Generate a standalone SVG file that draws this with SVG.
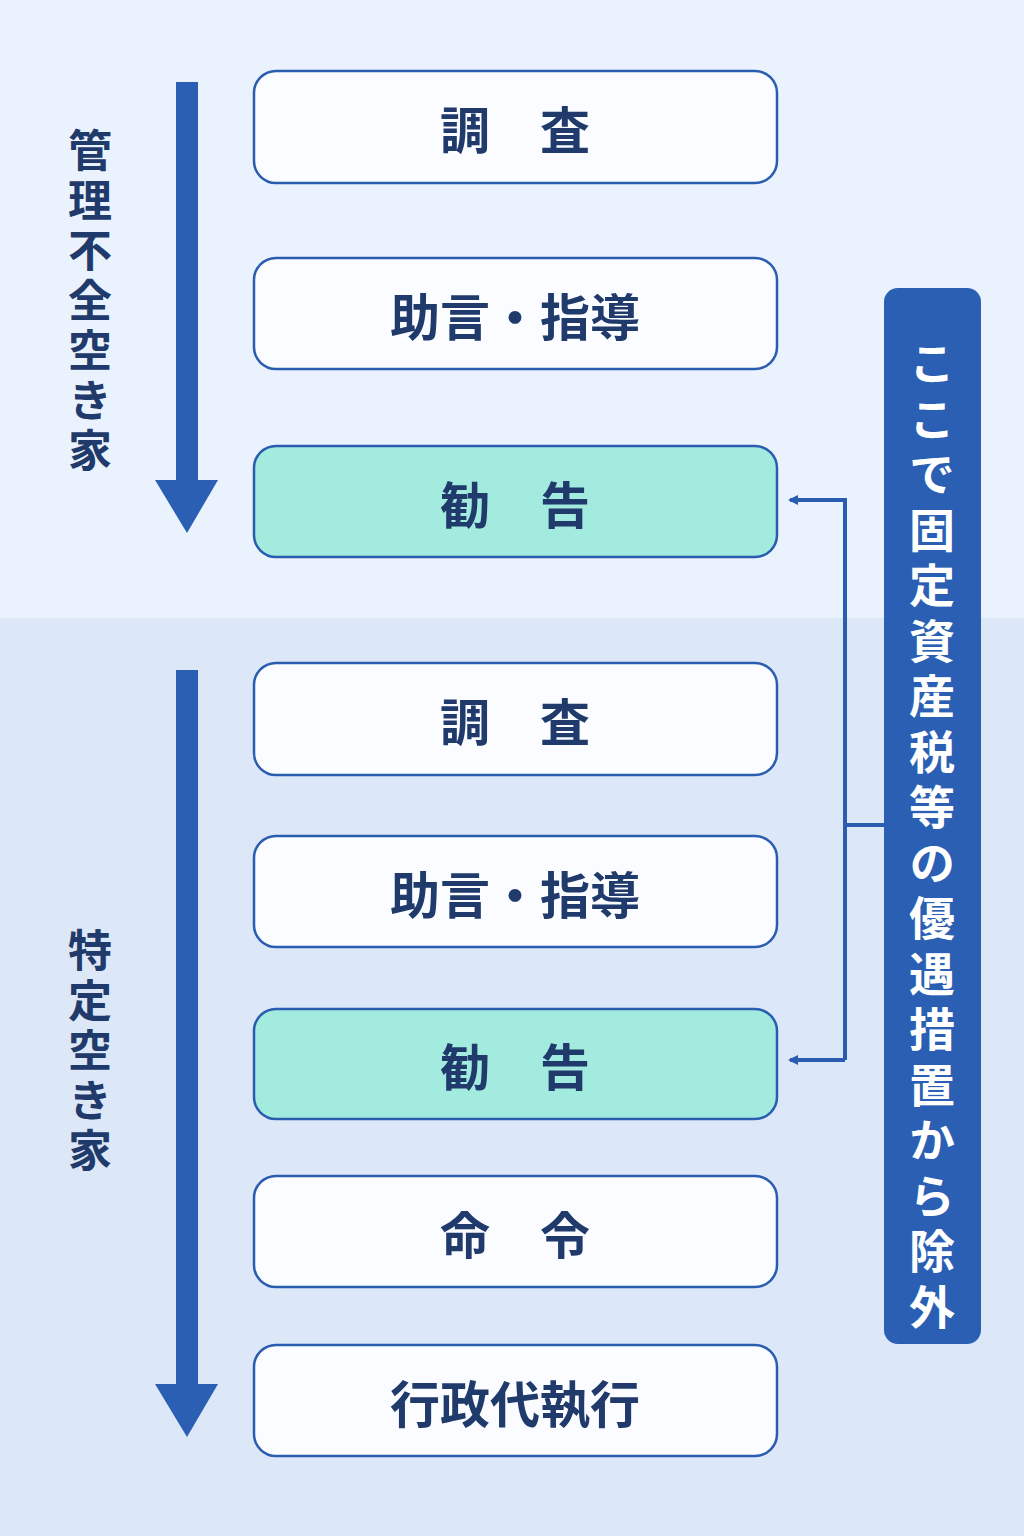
<svg xmlns="http://www.w3.org/2000/svg" width="1024" height="1536" viewBox="0 0 1024 1536">
<style>
.b{fill:#FAFCFF;stroke:#2A5DB0;stroke-width:2.5}
.g{fill:#A3EADF;stroke:#2A5DB0;stroke-width:2.5}
.t{font-family:"Noto Sans CJK JP","Noto Sans",sans-serif;font-weight:700;font-size:50px;fill:#1F3A6B;text-anchor:middle;dominant-baseline:central}
.v{font-family:"Noto Sans CJK JP",sans-serif;font-weight:700;font-size:44px;fill:#1F3A6B;writing-mode:vertical-rl;letter-spacing:6px}
.w{font-family:"Noto Sans CJK JP",sans-serif;font-weight:700;font-size:46px;fill:#fff;writing-mode:vertical-rl;letter-spacing:9.5px}
</style>
<defs><marker id="ah" markerWidth="10" markerHeight="10" refX="8" refY="5" orient="auto" markerUnits="userSpaceOnUse" viewBox="0 0 10 10"><path d="M0,0 L10,5 L0,10 Z" fill="#2A5DB0"/></marker></defs>
<rect width="1024" height="618" fill="#EAF3FD"/>
<rect y="618" width="1024" height="918" fill="#DCE7F8"/>
<g id="arrows-left" fill="#2A5FB4">
<rect x="176" y="82" width="22" height="402"/><path d="M155,480 L218,480 L187,533 Z"/>
<rect x="176" y="670" width="22" height="718"/><path d="M155,1384 L218,1384 L187,1437 Z"/>
</g>
<g id="label1"><text class="v" x="90" y="128">管理不全空き家</text></g>
<g id="label2"><text class="v" x="90" y="928">特定空き家</text></g>
<g id="n1"><rect class="b" x="254" y="71" width="523" height="112" rx="22"/><text class="t" x="515" y="127">調　査</text></g>
<g id="n2"><rect class="b" x="254" y="258" width="523" height="111" rx="22"/><text class="t" x="515" y="314">助言・指導</text></g>
<g id="n3"><rect class="g" x="254" y="446" width="523" height="111" rx="22"/><text class="t" x="515" y="502">勧　告</text></g>
<g id="n4"><rect class="b" x="254" y="663" width="523" height="112" rx="22"/><text class="t" x="515" y="719">調　査</text></g>
<g id="n5"><rect class="b" x="254" y="836" width="523" height="111" rx="22"/><text class="t" x="515" y="892">助言・指導</text></g>
<g id="n6"><rect class="g" x="254" y="1009" width="523" height="110" rx="22"/><text class="t" x="515" y="1064">勧　告</text></g>
<g id="n7"><rect class="b" x="254" y="1176" width="523" height="111" rx="22"/><text class="t" x="515" y="1232">命　令</text></g>
<g id="n8"><rect class="b" x="254" y="1345" width="523" height="111" rx="22"/><text class="t" x="515" y="1401">行政代執行</text></g>
<g id="side"><rect x="884" y="288" width="97" height="1056" rx="14" fill="#2A5FB4"/><text class="w" x="932" y="340">ここで固定資産税等の優遇措置から除外</text></g>
<g id="connectors" fill="none" stroke="#2A5DB0" stroke-width="4">
<path d="M884,825 L845,825"/>
<path d="M845,1060 L845,500 L790,500" marker-end="url(#ah)"/>
<path d="M845,1060 L790,1060" marker-end="url(#ah)"/>
</g>
</svg>
